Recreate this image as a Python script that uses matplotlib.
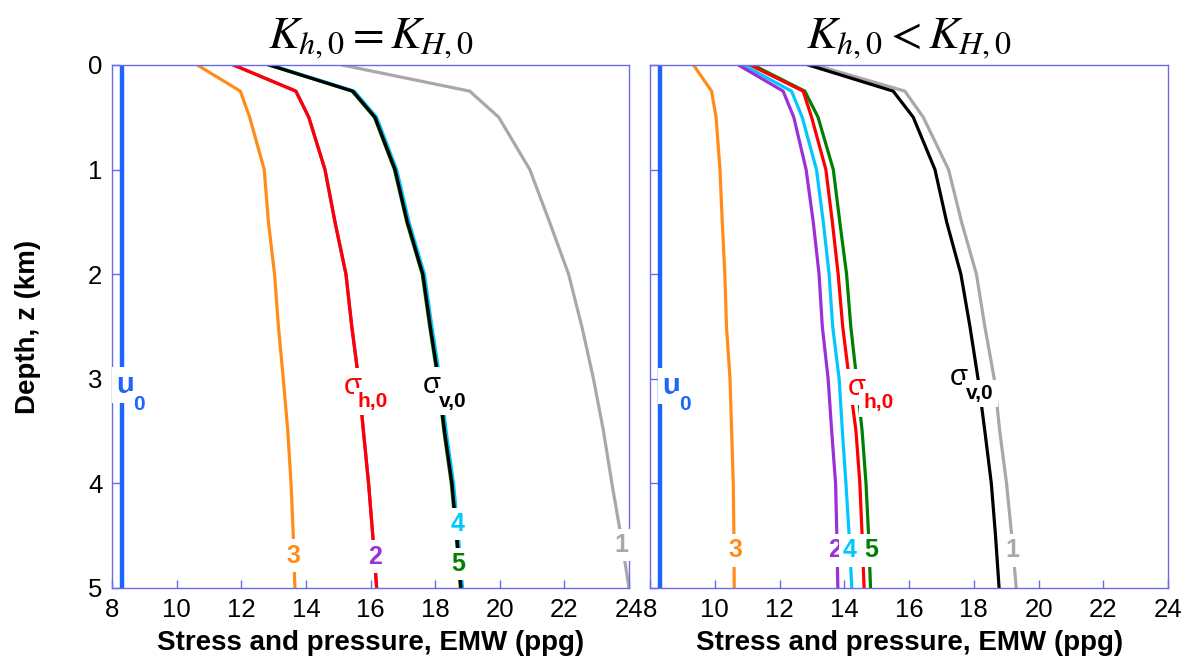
import matplotlib
matplotlib.use('Agg')
import matplotlib.pyplot as plt

plt.rcParams['font.family'] = ['Liberation Sans', 'DejaVu Sans']
plt.rcParams['mathtext.fontset'] = 'stix'

depth = [0, 0.25, 0.5, 1, 1.5, 2, 2.5, 3, 3.5, 4, 4.5, 5]
u0_depth = [0, 5]
u0 = [8.3, 8.3]

# left panel: K_h,0 = K_H,0
left_1 = [15.12, 19.07, 19.97, 20.93, 21.54, 22.13, 22.54, 22.90, 23.21, 23.47, 23.75, 24.00]
left_sv = [12.87, 15.45, 16.14, 16.76, 17.14, 17.62, 17.85, 18.10, 18.29, 18.52, 18.67, 18.80]
left_4 = [12.91, 15.50, 16.19, 16.81, 17.19, 17.67, 17.90, 18.15, 18.34, 18.57, 18.72, 18.85]
left_5 = [12.85, 15.43, 16.12, 16.74, 17.12, 17.60, 17.83, 18.08, 18.27, 18.50, 18.65, 18.78]
left_sh = [11.76, 13.69, 14.09, 14.59, 14.90, 15.24, 15.42, 15.63, 15.78, 15.94, 16.07, 16.19]
left_2 = left_sh
left_3 = [10.64, 11.97, 12.26, 12.71, 12.84, 13.03, 13.15, 13.30, 13.44, 13.54, 13.61, 13.66]

# right panel: K_h,0 < K_H,0
right_1 = [13.10, 15.87, 16.44, 17.22, 17.62, 18.08, 18.34, 18.63, 18.80, 19.01, 19.17, 19.31]
right_sv = [12.89, 15.51, 16.13, 16.80, 17.16, 17.60, 17.88, 18.13, 18.34, 18.54, 18.67, 18.78]
right_2 = [10.73, 12.11, 12.44, 12.82, 13.04, 13.22, 13.32, 13.50, 13.61, 13.73, 13.77, 13.80]
right_4 = [10.88, 12.37, 12.70, 13.14, 13.35, 13.53, 13.64, 13.84, 13.94, 14.05, 14.15, 14.23]
right_sh = [11.09, 12.73, 12.99, 13.43, 13.63, 13.81, 13.95, 14.15, 14.36, 14.48, 14.55, 14.61]
right_5 = [11.18, 12.78, 13.19, 13.66, 13.86, 14.07, 14.20, 14.38, 14.55, 14.67, 14.75, 14.81]
right_3 = [9.34, 9.90, 10.04, 10.16, 10.23, 10.31, 10.36, 10.47, 10.52, 10.57, 10.59, 10.60]

xticks = [8, 10, 12, 14, 16, 18, 20, 22, 24]
yticks = [0, 1, 2, 3, 4, 5]

c_blue = '#1e64ff'
c_orange = '#ff8c1a'
c_red = '#ff0000'
c_gray = '#a8a8a8'
c_cyan = '#00c8ff'
c_green = '#008000'
c_purple = '#9b30d9'
c_frame = '#6b6bea'

fig = plt.figure(figsize=(12.02, 6.68), dpi=100)
axL = fig.add_axes([0.0932, 0.1198, 0.4301, 0.7829])
axR = fig.add_axes([0.5408, 0.1198, 0.4310, 0.7829])

lw = 2.3
box = dict(facecolor='white', edgecolor='none', pad=3)


def label(ax, x, z, s, color, size=18):
    ax.text(x, z, s, color=color, fontsize=size, fontweight='bold',
            ha='center', va='center', bbox=box, zorder=10)


def sym(ax, x, z, main, sub, color, xs, zs, bold_main=False):
    ax.text(x, z, main, color=color, fontsize=21,
            fontweight='bold' if bold_main else 'normal',
            ha='center', va='center', bbox=box, zorder=10)
    ax.text(xs, zs, sub, color=color, fontsize=15, fontweight='bold',
            ha='center', va='center', bbox=box, zorder=11)


# left panel
axL.plot(left_1, depth, color=c_gray, lw=lw)
axL.plot(left_5, depth, color=c_green, lw=lw)
axL.plot(left_4, depth, color=c_cyan, lw=lw)
axL.plot(left_sv, depth, color='black', lw=lw)
axL.plot(left_2, depth, color=c_purple, lw=lw)
axL.plot(left_sh, depth, color=c_red, lw=lw)
axL.plot(left_3, depth, color=c_orange, lw=lw)
axL.plot(u0, u0_depth, color=c_blue, lw=3.2)

label(axL, 13.6, 4.69, '3', c_orange)
label(axL, 16.14, 4.70, '2', c_purple)
label(axL, 18.7, 4.39, '4', c_cyan)
label(axL, 18.7, 4.77, '5', c_green)
label(axL, 23.75, 4.59, '1', c_gray)
sym(axL, 8.40, 3.06, 'u', '0', c_blue, 8.84, 3.25, bold_main=True)
sym(axL, 15.46, 3.07, 'σ', 'h,0', c_red, 16.08, 3.22)
sym(axL, 17.90, 3.06, 'σ', 'v,0', 'black', 18.56, 3.22)

# right panel
axR.plot(right_1, depth, color=c_gray, lw=lw)
axR.plot(right_sv, depth, color='black', lw=lw)
axR.plot(right_5, depth, color=c_green, lw=lw)
axR.plot(right_sh, depth, color=c_red, lw=lw)
axR.plot(right_4, depth, color=c_cyan, lw=lw)
axR.plot(right_2, depth, color=c_purple, lw=lw)
axR.plot(right_3, depth, color=c_orange, lw=lw)
axR.plot(u0, u0_depth, color=c_blue, lw=3.2)

label(axR, 10.65, 4.64, '3', c_orange)
label(axR, 13.71, 4.64, '2', c_purple)
label(axR, 14.17, 4.64, '4', c_cyan)
label(axR, 14.82, 4.64, '5', c_green)
label(axR, 19.2, 4.64, '1', c_gray)
sym(axR, 8.66, 3.07, 'u', '0', c_blue, 9.08, 3.25, bold_main=True)
sym(axR, 14.38, 3.08, 'σ', 'h,0', c_red, 15.05, 3.23)
sym(axR, 17.52, 2.98, 'σ', 'v,0', 'black', 18.19, 3.14)

for ax in (axL, axR):
    ax.set_xlim(8, 24)
    ax.set_ylim(5, 0)
    ax.set_xticks(xticks)
    ax.set_yticks(yticks)
    ax.tick_params(direction='in', length=6, width=1, color=c_frame,
                   labelsize=18.5, pad=7)
    for sp in ax.spines.values():
        sp.set_color(c_frame)
        sp.set_linewidth(1)
    ax.set_xlabel('Stress and pressure, EMW (ppg)', fontsize=20,
                  fontweight='bold')
    ax.xaxis.set_label_coords(0.5, -0.08)

axR.tick_params(labelleft=False)
axL.set_ylabel('Depth, z (km)', fontsize=20, fontweight='bold')
axL.yaxis.set_label_coords(-0.137, 0.5)

axL.set_title(r'$K_{h,0} = K_{H,0}$', fontsize=33, pad=12)
axR.set_title(r'$K_{h,0} < K_{H,0}$', fontsize=33, pad=12)

fig.savefig('out.png', dpi=100)
